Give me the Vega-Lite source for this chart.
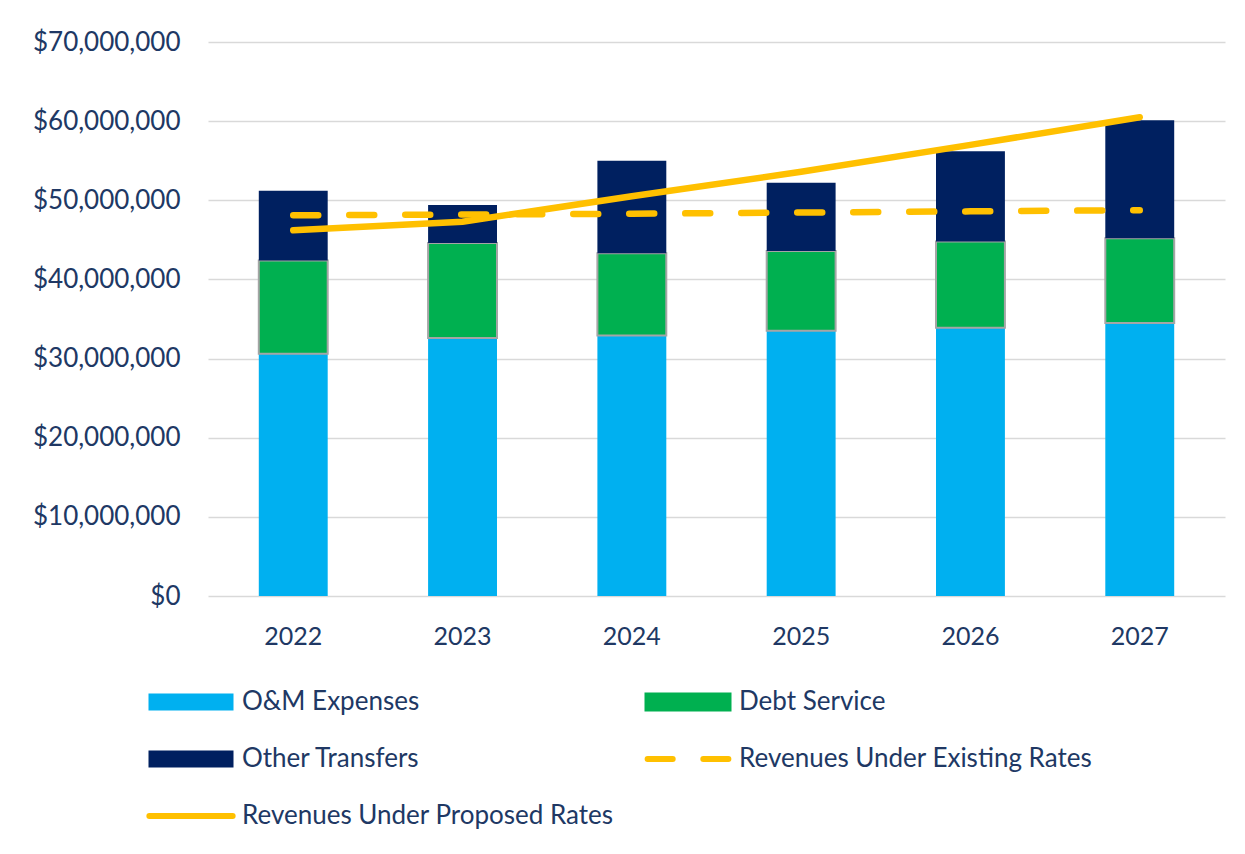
{
  "$schema": "https://vega.github.io/schema/vega-lite/v6.json",
  "autosize": "none",
  "width": 1017,
  "height": 554,
  "padding": {"left": 208, "top": 42, "right": 20, "bottom": 258},
  "background": "white",
  "config": {
    "font": "Lato",
    "view": {"stroke": null},
    "axis": {"labelFont": "Lato", "labelColor": "#203864", "labelFontSize": 26, "domain": false, "ticks": false},
    "legend": {"labelFont": "Lato", "labelColor": "#203864", "labelFontSize": 26}
  },
  "datasets": {
    "bars": [
      {"year": "2022", "series": "O&M Expenses", "value": 30600000},
      {"year": "2022", "series": "Debt Service", "value": 11800000},
      {"year": "2022", "series": "Other Transfers", "value": 8800000},
      {"year": "2023", "series": "O&M Expenses", "value": 32600000},
      {"year": "2023", "series": "Debt Service", "value": 12000000},
      {"year": "2023", "series": "Other Transfers", "value": 4800000},
      {"year": "2024", "series": "O&M Expenses", "value": 32900000},
      {"year": "2024", "series": "Debt Service", "value": 10400000},
      {"year": "2024", "series": "Other Transfers", "value": 11700000},
      {"year": "2025", "series": "O&M Expenses", "value": 33500000},
      {"year": "2025", "series": "Debt Service", "value": 10100000},
      {"year": "2025", "series": "Other Transfers", "value": 8600000},
      {"year": "2026", "series": "O&M Expenses", "value": 33900000},
      {"year": "2026", "series": "Debt Service", "value": 10900000},
      {"year": "2026", "series": "Other Transfers", "value": 11400000},
      {"year": "2027", "series": "O&M Expenses", "value": 34500000},
      {"year": "2027", "series": "Debt Service", "value": 10700000},
      {"year": "2027", "series": "Other Transfers", "value": 14900000}
    ],
    "lines": [
      {"year": "2022", "series": "Revenues Under Existing Rates", "value": 48100000},
      {"year": "2023", "series": "Revenues Under Existing Rates", "value": 48200000},
      {"year": "2024", "series": "Revenues Under Existing Rates", "value": 48300000},
      {"year": "2025", "series": "Revenues Under Existing Rates", "value": 48450000},
      {"year": "2026", "series": "Revenues Under Existing Rates", "value": 48600000},
      {"year": "2027", "series": "Revenues Under Existing Rates", "value": 48750000},
      {"year": "2022", "series": "Revenues Under Proposed Rates", "value": 46200000},
      {"year": "2023", "series": "Revenues Under Proposed Rates", "value": 47300000},
      {"year": "2024", "series": "Revenues Under Proposed Rates", "value": 50500000},
      {"year": "2025", "series": "Revenues Under Proposed Rates", "value": 53600000},
      {"year": "2026", "series": "Revenues Under Proposed Rates", "value": 57000000},
      {"year": "2027", "series": "Revenues Under Proposed Rates", "value": 60500000}
    ]
  },
  "encoding": {
    "x": {
      "field": "year", "type": "ordinal", "title": null,
      "scale": {"paddingInner": 0.593, "paddingOuter": 0.3},
      "axis": {"labelAngle": 0, "labelPadding": 28, "labelFontSize": 25, "grid": false}
    },
    "y": {
      "field": "value", "type": "quantitative", "title": null,
      "scale": {"domain": [0, 70000000], "nice": false},
      "axis": {
        "values": [0, 10000000, 20000000, 30000000, 40000000, 50000000, 60000000, 70000000],
        "format": "$,.0f", "labelPadding": 28, "grid": true, "gridColor": "#D9D9D9", "gridWidth": 1.5
      }
    },
    "color": {
      "field": "series", "type": "nominal",
      "scale": {
        "domain": ["O&M Expenses", "Debt Service", "Other Transfers", "Revenues Under Existing Rates", "Revenues Under Proposed Rates"],
        "range": ["#00B0F0", "#00B050", "#002060", "#FFC000", "#FFC000"]
      },
      "legend": {
        "title": null,
        "orient": "none",
        "legendX": -64,
        "legendY": 647,
        "direction": "horizontal",
        "columns": 2,
        "columnPadding": 21,
        "rowPadding": 31,
        "symbolSize": 289,
        "symbolOffset": 34,
        "labelOffset": 38,
        "labelLimit": 600,
        "encode": {
          "symbols": {
            "update": {
              "shape": {"signal": "datum.value === 'Revenues Under Existing Rates' ? 'M-4.75,0H-1.8M1.8,0H4.75' : datum.value === 'Revenues Under Proposed Rates' ? 'M-4.9,0H4.9' : 'M-5,-1H5V1H-5Z'"},
              "fill": {"signal": "datum.value === 'O&M Expenses' ? '#00B0F0' : datum.value === 'Debt Service' ? '#00B050' : datum.value === 'Other Transfers' ? '#002060' : 'transparent'"},
              "stroke": {"signal": "datum.value === 'Debt Service' ? '#A5A5A5' : (datum.value === 'O&M Expenses' || datum.value === 'Other Transfers') ? 'transparent' : '#FFC000'"},
              "strokeWidth": {"signal": "datum.value === 'Debt Service' ? 2 : (datum.value === 'O&M Expenses' || datum.value === 'Other Transfers') ? 0 : 6"},
              "strokeCap": {"value": "round"},
              "opacity": {"value": 1}
            }
          }
        }
      }
    }
  },
  "layer": [
    {
      "data": {"name": "bars"},
      "transform": [
        {"calculate": "indexof(['O&M Expenses','Debt Service','Other Transfers'], datum.series)", "as": "stackOrder"}
      ],
      "mark": {"type": "bar"},
      "encoding": {
        "order": {"field": "stackOrder", "type": "quantitative", "sort": "ascending"},
        "stroke": {"condition": {"test": "datum.series === 'Debt Service'", "value": "#A5A5A5"}, "value": null},
        "strokeWidth": {"value": 2}
      }
    },
    {
      "data": {"name": "lines"},
      "transform": [{"filter": "datum.series === 'Revenues Under Existing Rates'"}],
      "mark": {"type": "line", "strokeWidth": 6.5, "strokeDash": [25, 31], "strokeCap": "round"}
    },
    {
      "data": {"name": "lines"},
      "transform": [{"filter": "datum.series === 'Revenues Under Proposed Rates'"}],
      "mark": {"type": "line", "strokeWidth": 6.5, "strokeCap": "round"}
    }
  ]
}
